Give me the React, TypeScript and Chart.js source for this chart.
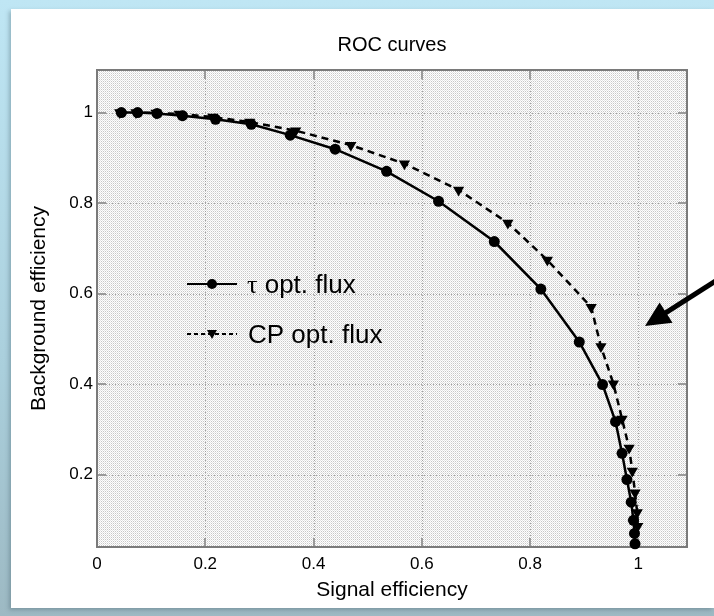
import React, { useEffect, useRef } from "react";
import { Chart, registerables } from "chart.js";

Chart.register(...registerables);

// Signal / background efficiency pairs for the two fluxes
const tauSignal = [0.045, 0.075, 0.111, 0.158, 0.219, 0.285, 0.357, 0.44, 0.535, 0.631, 0.734, 0.82, 0.891, 0.934, 0.958, 0.97, 0.979, 0.987, 0.991, 0.993, 0.994];
const tauBackground = [1.0, 1.0, 0.998, 0.993, 0.985, 0.974, 0.95, 0.919, 0.87, 0.804, 0.715, 0.61, 0.493, 0.399, 0.317, 0.247, 0.189, 0.139, 0.099, 0.07, 0.047];
const cpSignal = [0.042, 0.072, 0.109, 0.152, 0.214, 0.282, 0.367, 0.469, 0.568, 0.668, 0.759, 0.832, 0.913, 0.931, 0.954, 0.97, 0.983, 0.989, 0.994, 0.998, 0.999];
const cpBackground = [1.0, 1.0, 0.999, 0.997, 0.99, 0.979, 0.96, 0.928, 0.887, 0.829, 0.756, 0.674, 0.57, 0.483, 0.401, 0.323, 0.259, 0.208, 0.16, 0.116, 0.086];

const xTickValues = [0, 0.2, 0.4, 0.6, 0.8, 1];
const yTickValues = [0.2, 0.4, 0.6, 0.8, 1];
const legendLabels = ["opt. flux", "CP opt. flux"];
const chartTitle = "ROC curves";

const SANS = '"Liberation Sans", Arial, Helvetica, sans-serif';
const SERIF = '"Liberation Serif", "Times New Roman", serif';

const W = 703;
const H = 599;

function makeStipple(): CanvasPattern | string {
  const c = document.createElement("canvas");
  c.width = 2;
  c.height = 2;
  const g = c.getContext("2d");
  if (!g) return "#eeeeee";
  g.fillStyle = "#ffffff";
  g.fillRect(0, 0, 2, 2);
  g.fillStyle = "#c8c8c8";
  g.fillRect(0, 0, 1, 1);
  g.fillStyle = "#e4e4e4";
  g.fillRect(1, 1, 1, 1);
  const p = g.createPattern(c, "repeat");
  return p || "#eeeeee";
}

export default function App() {
  const ref = useRef<HTMLCanvasElement | null>(null);

  useEffect(() => {
    const canvas = ref.current;
    if (!canvas) return;
    const stipple = makeStipple();

    const frame = {
      id: "frame",
      beforeDatasetsDraw(chart: any) {
        const { ctx, chartArea: a, scales } = chart;
        const xs = scales.x;
        const ys = scales.y;
        ctx.save();
        ctx.fillStyle = stipple;
        ctx.fillRect(a.left, a.top, a.right - a.left, a.bottom - a.top);

        // dotted major grid
        ctx.strokeStyle = "#a0a0a0";
        ctx.lineWidth = 1;
        ctx.setLineDash([1, 2]);
        xTickValues.forEach((v) => {
          if (v === 0) return;
          const px = Math.round(xs.getPixelForValue(v)) + 0.5;
          ctx.beginPath();
          ctx.moveTo(px, a.top);
          ctx.lineTo(px, a.bottom);
          ctx.stroke();
        });
        yTickValues.forEach((v) => {
          const py = Math.round(ys.getPixelForValue(v)) + 0.5;
          ctx.beginPath();
          ctx.moveTo(a.left, py);
          ctx.lineTo(a.right, py);
          ctx.stroke();
        });

        // inward tick marks on all four sides
        ctx.setLineDash([]);
        ctx.strokeStyle = "#9a9a9a";
        ctx.lineWidth = 2;
        const len = 9;
        xTickValues.forEach((v) => {
          const px = Math.round(xs.getPixelForValue(v));
          ctx.beginPath();
          ctx.moveTo(px, a.top);
          ctx.lineTo(px, a.top + len);
          ctx.moveTo(px, a.bottom);
          ctx.lineTo(px, a.bottom - len);
          ctx.stroke();
        });
        yTickValues.forEach((v) => {
          const py = Math.round(ys.getPixelForValue(v));
          ctx.beginPath();
          ctx.moveTo(a.left, py);
          ctx.lineTo(a.left + len, py);
          ctx.moveTo(a.right, py);
          ctx.lineTo(a.right - len, py);
          ctx.stroke();
        });

        // box
        ctx.strokeStyle = "#7a7a7a";
        ctx.lineWidth = 2;
        ctx.strokeRect(a.left, a.top, a.right - a.left, a.bottom - a.top);
        ctx.restore();
      },
      afterDraw(chart: any) {
        const { ctx, chartArea: a } = chart;
        ctx.save();

        // title, centred over the plot box
        ctx.fillStyle = "#000";
        ctx.font = `20px ${SANS}`;
        ctx.textAlign = "center";
        ctx.textBaseline = "middle";
        ctx.fillText(chartTitle, (a.left + a.right) / 2, 36);

        // legend
        const lx0 = 176;
        const lx1 = 226;
        const lmid = 201;
        const tx = 236;
        const r1 = 275;
        const r2 = 325;
        ctx.strokeStyle = "#000";
        ctx.lineWidth = 2;
        ctx.beginPath();
        ctx.moveTo(lx0, r1);
        ctx.lineTo(lx1, r1);
        ctx.stroke();
        ctx.beginPath();
        ctx.arc(lmid, r1, 5, 0, Math.PI * 2);
        ctx.fill();

        ctx.setLineDash([4, 3]);
        ctx.beginPath();
        ctx.moveTo(lx0, r2);
        ctx.lineTo(lx1, r2);
        ctx.stroke();
        ctx.setLineDash([]);
        ctx.beginPath();
        ctx.moveTo(lmid - 5, r2 - 4);
        ctx.lineTo(lmid + 5, r2 - 4);
        ctx.lineTo(lmid, r2 + 5);
        ctx.closePath();
        ctx.fill();

        ctx.textBaseline = "middle";
        ctx.textAlign = "left";
        ctx.font = `26px ${SERIF}`;
        ctx.fillText("\u03c4", tx, r1 + 2);
        const tauW = ctx.measureText("\u03c4").width;
        ctx.font = `26px ${SANS}`;
        ctx.fillText(" " + legendLabels[0], tx + tauW, r1 + 2);
        ctx.fillText(legendLabels[1], tx + 1, r2 + 2);

        // pointer arrow at the right edge
        const tipX = 634;
        const tipY = 317;
        const ang = Math.atan2(-44, 69);
        const ux = Math.cos(ang);
        const uy = Math.sin(ang);
        const headLen = 25;
        const headHalf = 12;
        const bx = tipX + ux * headLen;
        const by = tipY + uy * headLen;
        ctx.lineWidth = 5;
        ctx.lineCap = "butt";
        ctx.beginPath();
        ctx.moveTo(bx - ux * 2, by - uy * 2);
        ctx.lineTo(tipX + ux * 140, tipY + uy * 140);
        ctx.stroke();
        ctx.beginPath();
        ctx.moveTo(tipX, tipY);
        ctx.lineTo(bx - uy * headHalf, by + ux * headHalf);
        ctx.lineTo(bx + uy * headHalf, by - ux * headHalf);
        ctx.closePath();
        ctx.fill();
        ctx.restore();
      },
    };

    const chart = new Chart(canvas, {
      type: "line",
      data: {
        datasets: [
          {
            label: "\u03c4 opt. flux",
            data: tauSignal.map((s, i) => ({ x: s, y: tauBackground[i] })),
            borderColor: "#000",
            backgroundColor: "#000",
            borderWidth: 2.5,
            pointStyle: "circle",
            pointRadius: 5.5,
            pointBorderWidth: 0,
            tension: 0,
            clip: false,
          },
          {
            label: "CP opt. flux",
            data: cpSignal.map((s, i) => ({ x: s, y: cpBackground[i] })),
            borderColor: "#000",
            backgroundColor: "#000",
            borderWidth: 2.5,
            borderDash: [7, 5],
            pointStyle: "triangle",
            rotation: 180,
            pointRadius: 6.5,
            pointBorderWidth: 0,
            tension: 0,
            clip: false,
          },
        ],
      },
      options: {
        responsive: false,
        animation: false,
        events: [],
        layout: { padding: { left: 0, top: 61, right: 27, bottom: 0 } },
        plugins: {
          legend: { display: false },
          tooltip: { enabled: false },
          title: { display: false },
        },
        scales: {
          x: {
            type: "linear",
            min: 0,
            max: 1.09,
            afterFit: (s: any) => {
              s.height = 61;
            },
            grid: { display: false, drawTicks: false },
            border: { display: false },
            ticks: {
              includeBounds: false,
              stepSize: 0.2,
              padding: 7,
              color: "#000",
              font: { family: SANS, size: 17 },
              maxRotation: 0,
              callback: (v: any) => String(+Number(v).toFixed(1)),
            },
            title: {
              display: true,
              text: "Signal efficiency",
              color: "#000",
              font: { family: SANS, size: 21, lineHeight: 1.2 },
              padding: { top: 0, bottom: 5 },
            },
          },
          y: {
            type: "linear",
            min: 0.04,
            max: 1.094,
            afterFit: (s: any) => {
              s.width = 86;
            },
            grid: { display: false, drawTicks: false },
            border: { display: false },
            ticks: {
              includeBounds: false,
              stepSize: 0.2,
              padding: 4,
              color: "#000",
              font: { family: SANS, size: 17 },
              callback: (v: any) => String(+Number(v).toFixed(1)),
            },
            title: {
              display: true,
              text: "Background efficiency",
              color: "#000",
              font: { family: SANS, size: 21, lineHeight: 1.2 },
              padding: { top: 16, bottom: 0 },
            },
          },
        },
      },
      plugins: [frame],
    } as any);

    return () => chart.destroy();
  }, []);

  return (
    <div
      style={{
        position: "fixed",
        left: 0,
        top: 0,
        width: 714,
        height: 616,
        overflow: "hidden",
        background: "linear-gradient(to bottom, #bfe6f4 0%, #aacfdc 60%, #9db9c3 100%)",
      }}
    >
      <div
        style={{
          position: "absolute",
          left: 11,
          top: 9,
          width: W,
          height: H,
          background: "#ffffff",
          boxShadow: "-2px 2px 4px rgba(60,90,100,0.35)",
        }}
      >
        <canvas ref={ref} width={W} height={H} style={{ display: "block", width: W, height: H }} />
      </div>
    </div>
  );
}
